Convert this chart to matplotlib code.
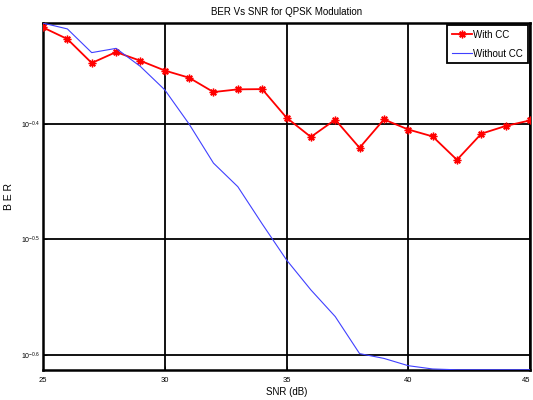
import matplotlib
matplotlib.use("Agg")
import matplotlib.pyplot as plt
from matplotlib.ticker import NullLocator

snr = [25, 26, 27, 28, 29, 30, 31, 32, 33, 34, 35, 36, 37, 38, 39, 40, 41, 42, 43, 44, 45]
ber_cc = [0.4824, 0.4714, 0.4494, 0.4593, 0.4514, 0.4427, 0.4364, 0.4241, 0.4264, 0.4266,
          0.4030, 0.3878, 0.4014, 0.3795, 0.4016, 0.3936, 0.3882, 0.3705, 0.3903, 0.3964, 0.4008]
ber_nocc = [0.4866, 0.4810, 0.4588, 0.4627, 0.4463, 0.4260, 0.3979, 0.3681, 0.3512, 0.3261,
            0.3035, 0.2859, 0.2711, 0.2518, 0.2494, 0.2458, 0.2442, 0.2438, 0.2438, 0.2438, 0.2438]
xticks = [25, 30, 35, 40, 45]
yticks = [10 ** -0.6, 10 ** -0.5, 10 ** -0.4]
ytick_labels = [r"$10^{-0.6}$", r"$10^{-0.5}$", r"$10^{-0.4}$"]

plt.rcParams['font.family'] = ['Liberation Sans', 'DejaVu Sans']
plt.rcParams['mathtext.fontset'] = 'custom'
plt.rcParams['mathtext.rm'] = 'Liberation Sans'
plt.rcParams['mathtext.it'] = 'Liberation Sans'

fig = plt.figure(figsize=(5.33, 4.0), dpi=100)
ax = fig.add_axes([0.0807, 0.075, 0.9137, 0.8675])

ax.semilogy(snr, ber_cc, color='#ff0000', lw=1.3, marker=(8, 2, 0), markersize=5.5,
            markeredgewidth=1.0, label='With CC', zorder=3)
ax.semilogy(snr, ber_nocc, color='#4040ff', lw=0.8, label='Without CC', zorder=3)

ax.set_xlim(25, 45)
ax.set_ylim(0.2437, 0.4867)
ax.set_xticks(xticks)
ax.set_xticklabels([str(t) for t in xticks], fontsize=5.5)
ax.get_xticklabels()[-1].set_horizontalalignment('right')
ax.set_yticks(yticks)
ax.set_yticklabels(ytick_labels, fontsize=5)
ax.yaxis.set_minor_locator(NullLocator())
ax.tick_params(direction='in', length=3, width=0.6, pad=5)
ax.tick_params(axis='y', pad=2)

ax.grid(True, which='major', color='black', lw=1.3, ls='-')
for s in ax.spines.values():
    s.set_linewidth(1.8)
    s.set_color('black')

ax.set_title('BER Vs SNR for QPSK Modulation', fontsize=7, pad=6)
ax.set_xlabel('SNR (dB)', fontsize=7, labelpad=2)
ax.set_ylabel('B E R', fontsize=7.5, labelpad=5)

leg = ax.legend(loc='upper right', fontsize=7, fancybox=False, framealpha=1,
                edgecolor='black', borderaxespad=0.2, handlelength=2.0,
                borderpad=0.5, labelspacing=0.9, handletextpad=0.2)
leg.get_frame().set_linewidth(1.3)

fig.savefig('out.png', dpi=100)
